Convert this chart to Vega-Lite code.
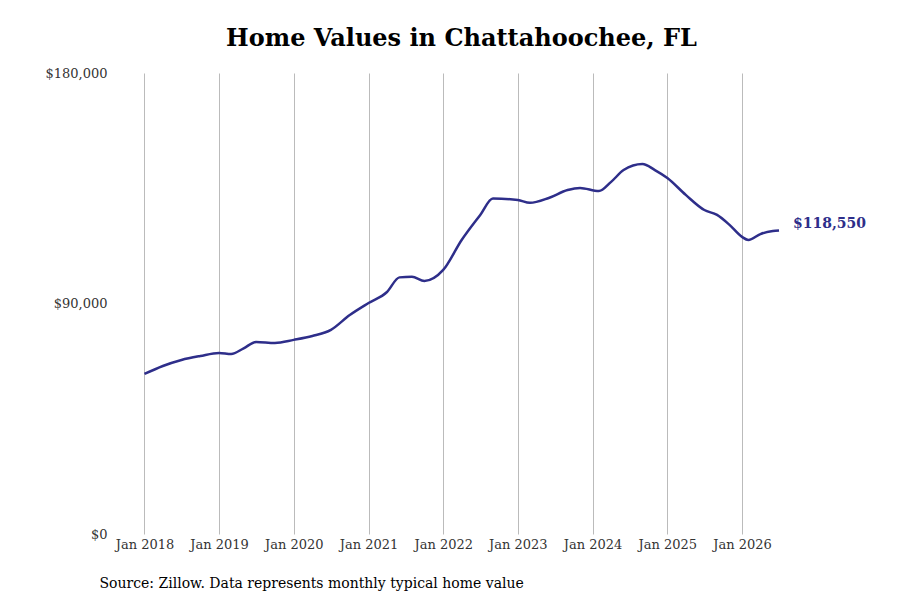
{
  "$schema": "https://vega.github.io/schema/vega-lite/v6.json",
  "autosize": "none",
  "width": 745,
  "height": 461,
  "padding": {"left": 115, "top": 73, "right": 40, "bottom": 66},
  "background": "white",
  "config": {"view": {"stroke": null}, "font": "DejaVu Serif"},
  "title": {"text": "Home Values in Chattahoochee, FL", "font": "DejaVu Serif", "fontSize": 24, "fontWeight": "bold", "color": "#000", "anchor": "middle", "dx": -26, "offset": 16},
  "data": {"values": [
    {"date": "2018-01-01", "value": 62480},
    {"date": "2018-04-01", "value": 65600},
    {"date": "2018-07-01", "value": 67950},
    {"date": "2018-10-01", "value": 69500},
    {"date": "2019-01-01", "value": 70700},
    {"date": "2019-03-01", "value": 70300},
    {"date": "2019-05-01", "value": 72500},
    {"date": "2019-07-01", "value": 75000},
    {"date": "2019-10-01", "value": 74600},
    {"date": "2020-01-01", "value": 75800},
    {"date": "2020-04-01", "value": 77300},
    {"date": "2020-07-01", "value": 79700},
    {"date": "2020-10-01", "value": 85500},
    {"date": "2021-01-01", "value": 90200},
    {"date": "2021-04-01", "value": 94500},
    {"date": "2021-06-01", "value": 100200},
    {"date": "2021-08-01", "value": 100400},
    {"date": "2021-10-01", "value": 98800},
    {"date": "2022-01-01", "value": 103100},
    {"date": "2022-04-01", "value": 114800},
    {"date": "2022-07-01", "value": 124600},
    {"date": "2022-09-01", "value": 131000},
    {"date": "2023-01-01", "value": 130400},
    {"date": "2023-03-01", "value": 129300},
    {"date": "2023-06-01", "value": 131200},
    {"date": "2023-09-01", "value": 134300},
    {"date": "2023-11-01", "value": 135100},
    {"date": "2024-02-01", "value": 133900},
    {"date": "2024-04-01", "value": 137500},
    {"date": "2024-06-01", "value": 142100},
    {"date": "2024-09-01", "value": 144500},
    {"date": "2024-11-01", "value": 142100},
    {"date": "2025-01-01", "value": 139000},
    {"date": "2025-04-01", "value": 132400},
    {"date": "2025-07-01", "value": 126500},
    {"date": "2025-09-01", "value": 124600},
    {"date": "2025-11-01", "value": 120700},
    {"date": "2026-01-01", "value": 116000},
    {"date": "2026-02-01", "value": 114800},
    {"date": "2026-04-01", "value": 117100},
    {"date": "2026-06-01", "value": 118300},
    {"date": "2026-07-01", "value": 118550}
  ]},
  "encoding": {
    "x": {"field": "date", "type": "temporal",
      "scale": {"domain": ["2017-08-10", "2027-08-01"]},
      "axis": {"values": ["2018-01-01","2019-01-01","2020-01-01","2021-01-01","2022-01-01","2023-01-01","2024-01-01","2025-01-01","2026-01-01"],
        "format": "Jan %Y", "grid": true, "gridColor": "#bbb", "gridWidth": 1, "domain": false, "ticks": false,
        "labelFont": "DejaVu Serif", "labelFontSize": 13, "labelColor": "#333", "labelPadding": 4,
        "title": "Source: Zillow. Data represents monthly typical home value", "titleFont": "DejaVu Serif", "titleFontSize": 14, "titleFontWeight": "normal", "titleColor": "#000",
        "titleAnchor": "start", "titleAlign": "left", "titleBaseline": "alphabetic", "titleX": -16, "titleY": 53}},
    "y": {"field": "value", "type": "quantitative",
      "scale": {"domain": [0, 180000]},
      "axis": {"values": [0, 90000, 180000], "format": "$,.0f", "grid": false, "domain": false, "ticks": false,
        "labelFont": "DejaVu Serif", "labelFontSize": 13, "labelColor": "#333", "labelPadding": 8, "title": null}}
  },
  "layer": [
    {"mark": {"type": "line", "color": "#2e2e8a", "strokeWidth": 2.5, "interpolate": "monotone"}},
    {"transform": [{"filter": "utcyear(datum.date) == 2026 && utcmonth(datum.date) == 6"}],
     "mark": {"type": "text", "align": "left", "dx": 14, "dy": -6, "font": "DejaVu Serif", "fontSize": 14, "fontWeight": "bold", "color": "#2e2e8a"},
     "encoding": {"text": {"field": "value", "format": "$,.0f"}}}
  ]
}
